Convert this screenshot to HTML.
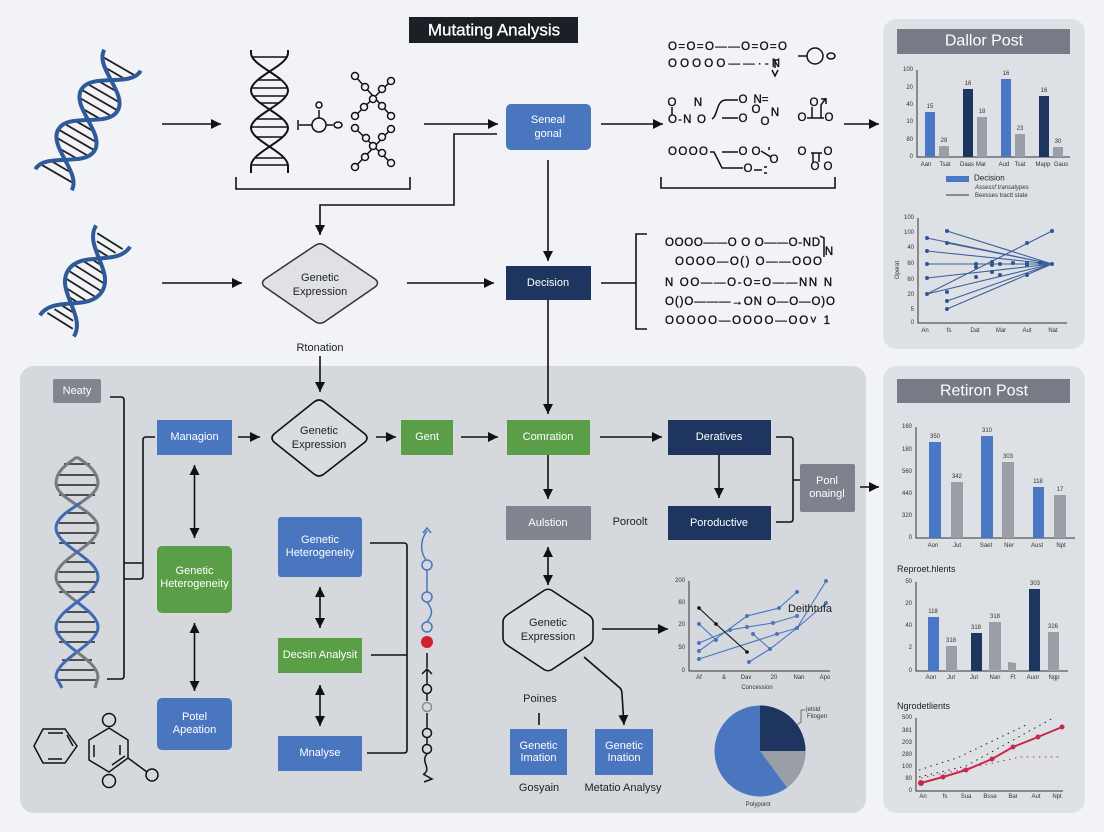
<!DOCTYPE html>
<html>
<head>
<meta charset="utf-8">
<style>
html,body{margin:0;padding:0;background:#f1f3f6;}
svg{display:block;font-family:"Liberation Sans",sans-serif;}
text{dominant-baseline:central;}
.m{text-anchor:middle;}
.e{text-anchor:end;}
.w{fill:#fff;font-size:11px;text-anchor:middle;}
.d{fill:#1c1f24;font-size:11px;text-anchor:middle;}
.l{fill:none;stroke:#111;stroke-width:1.6;}
.a{fill:none;stroke:#111;stroke-width:1.6;marker-end:url(#h);}
.b{fill:none;stroke:#111;stroke-width:1.6;marker-end:url(#h);marker-start:url(#h);}
.t{fill:#333;font-size:6px;}
.chem{fill:#111;stroke:#111;stroke-width:.35;font-size:11.5px;}
.n{fill:none;stroke:#111;stroke-width:1.5;}
.ax{fill:none;stroke:#333;stroke-width:1;}
.ln{fill:none;stroke:#3f609f;stroke-width:1.1;}
.pt{fill:#2f5597;}
</style>
</head>
<body>
<svg width="1104" height="832" viewBox="0 0 1104 832" xmlns="http://www.w3.org/2000/svg">
<defs>
<marker id="h" viewBox="0 0 10 10" refX="10" refY="5" markerWidth="10" markerHeight="11" markerUnits="userSpaceOnUse" orient="auto-start-reverse"><path d="M0,0L10,5L0,10Z" fill="#111"/></marker>
<linearGradient id="ga" gradientUnits="userSpaceOnUse" x1="0" y1="457" x2="0" y2="688"><stop offset="0" stop-color="#777b80"/><stop offset=".628" stop-color="#777b80"/><stop offset=".628" stop-color="#3f6cb0"/><stop offset="1" stop-color="#3f6cb0"/></linearGradient>
<linearGradient id="gb" gradientUnits="userSpaceOnUse" x1="0" y1="457" x2="0" y2="688"><stop offset="0" stop-color="#777b80"/><stop offset=".2" stop-color="#777b80"/><stop offset=".2" stop-color="#3f6cb0"/><stop offset=".844" stop-color="#3f6cb0"/><stop offset=".844" stop-color="#777b80"/><stop offset="1" stop-color="#777b80"/></linearGradient>
</defs>
<rect width="1104" height="832" fill="#f1f3f6"/>

<!-- panels -->
<rect x="883" y="19" width="202" height="330" rx="14" fill="#dde0e4"/>
<rect x="20" y="366" width="846" height="447" rx="14" fill="#d5d8dc"/>
<rect x="883" y="366" width="202" height="447" rx="14" fill="#dde0e4"/>

<!-- title -->
<rect x="409" y="17" width="169" height="26" fill="#1c1f26"/>
<text x="494" y="30" class="m" fill="#fff" stroke="#fff" stroke-width=".3" font-size="17">Mutating Analysis</text>

<!-- helix 1 -->
<g transform="translate(88,120) rotate(-60)">
<path d="M-39,-13V13M-31,-19V19M-23,-21V21M-15,-19V19M-7,-13V13M7,-13V13M15,-19V19M23,-21V21M31,-19V19M39,-13V13M-62,-17V17M-54,-11V11M62,-17V17M54,-11V11" stroke="#222" stroke-width="1.8" fill="none"/>
<path d="M-69,-21C-49,-21 -43,21 -23,21C-3,21 3,-21 23,-21C43,-21 49,21 69,21" stroke="#2f5a9a" stroke-width="4" fill="none"/>
<path d="M-69,21C-49,21 -43,-21 -23,-21C-3,-21 3,21 23,21C43,21 49,-21 69,-21" stroke="#2f5a9a" stroke-width="4" fill="none"/>
</g>
<!-- helix 2 -->
<g transform="translate(85,281) rotate(-58)">
<path d="M0,-20V20M-8,-19V19M8,-19V19M-16,-14V14M16,-14V14M-22,-7V7M22,-7V7M-47,-15V15M-40,-11V11M-33,-6V6M47,-15V15M40,-11V11M33,-6V6" stroke="#222" stroke-width="1.8" fill="none"/>
<path d="M-53,-20C-29,-20 -24,20 0,20C24,20 29,-20 53,-20" stroke="#2f5a9a" stroke-width="4" fill="none"/>
<path d="M-53,20C-29,20 -24,-20 0,-20C24,-20 29,20 53,20" stroke="#2f5a9a" stroke-width="4" fill="none"/>
</g>

<!-- black helix -->
<path d="M252,57H287M258,80H281M251.5,88H287.5M253.5,96H285.5M260.500,103H278.500M256.500,119H282.500M251.500,127H287.500M256.500,137H282.500M255.500,158H283.500M251.500,165H287.500" stroke="#111" stroke-width="1.6" fill="none"/>
<path d="M251,50V53C251,66 288,77 288,90.5C288,104 251,115 251,128C251,141 288,152 288,166V173" fill="none" stroke="#111" stroke-width="2"/>
<path d="M288,50V53C288,66 251,77 251,90.5C251,104 288,115 288,128C288,141 251,152 251,166V173" fill="none" stroke="#111" stroke-width="2"/>

<!-- molecule -->
<g class="n" stroke="#111">
<path class="n" d="M298,120V130M299,125H312M326,125H333M319,118V110"/>
<circle class="n" cx="319" cy="125" r="7"/><circle class="n" cx="319" cy="105" r="3"/><ellipse class="n" cx="338" cy="125" rx="4" ry="3"/>
<path class="n" d="M355,76L391,116M391,81L355,116M355,128L391,163M391,129L355,167"/>
</g>
<g fill="#f1f3f6" stroke="#111" stroke-width="1.5">
<circle cx="355" cy="76" r="3.5"/><circle cx="365" cy="87" r="3.5"/><circle cx="391" cy="81" r="3.5"/><circle cx="382" cy="89" r="3.5"/><circle cx="373" cy="99" r="3.5"/><circle cx="355" cy="116" r="3.500"/><circle cx="364" cy="107" r="3.500"/><circle cx="391" cy="116" r="3.500"/><circle cx="382" cy="106" r="3.500"/>
<circle cx="355" cy="128" r="3.5"/><circle cx="366" cy="138" r="3.5"/><circle cx="391" cy="129" r="3.5"/><circle cx="382" cy="137" r="3.5"/><circle cx="373" cy="146" r="3.5"/><circle cx="355" cy="167" r="3.5"/><circle cx="365" cy="157" r="3.5"/><circle cx="391" cy="163" r="3.5"/><circle cx="382" cy="153" r="3.5"/>
</g>
<path class="l" d="M236,177V189H410V177"/>

<!-- top connectors -->
<path class="a" d="M162,124H221"/>
<path class="a" d="M424,124H498"/>
<path class="a" d="M601,124H663"/>
<path class="a" d="M844,124H879"/>
<path class="a" d="M497,134H454V205H320V235"/>
<path class="a" d="M162,283H242"/>
<path class="a" d="M407,283H494"/>
<path class="a" d="M548,160V261"/>
<path class="a" d="M548,300V414"/>
<path class="l" d="M601,283H636M647,234H636V329H647"/>
<path class="a" d="M320,356V392"/>

<!-- top nodes -->
<rect x="506" y="104" width="85" height="46" rx="5" fill="#4a76c0"/>
<text x="548" y="120" class="w">Seneal</text><text x="548" y="134" class="w">gonal</text>
<path d="M265,279L315,245.500Q320,242 325,245.500L375,279Q380,283 375,287L325,321.500Q320,325 315,321.500L265,287Q260,283 265,279Z" fill="#dfe1e5" stroke="#333" stroke-width="1.5"/>
<text x="320" y="278" class="d">Genetic</text><text x="320" y="292" class="d">Expression</text>
<rect x="506" y="266" width="85" height="34" fill="#1e3560"/>
<text x="548" y="283" class="w">Decision</text>
<text x="320" y="348" class="d" font-size="10">Rtonation</text>

<!-- chemistry top -->
<text x="668" y="47" textLength="119" class="chem">O=O=O——O=O=O</text>
<text x="668" y="64" textLength="112" class="chem">OOOOO——·-N</text>
<path class="n" d="M778,60H775V68M772,70L775,76L778,70"/>
<path class="n" d="M798,56H807M768,100"/><circle class="n" cx="815" cy="56" r="8"/><ellipse class="n" cx="831" cy="56" rx="4" ry="3"/>
<text x="672" y="103" class="chem m">O</text><text x="698" y="103" class="chem m">N</text>
<path class="n" d="M672,107V115"/>
<text x="668" y="120" textLength="38" class="chem">O-N O</text>
<path class="n" d="M712,119C718,116 716,100 726,100H738M722,118H738"/>
<text x="743" y="100" class="chem m">O</text><text x="743" y="119" class="chem m">O</text>
<text x="761" y="100" class="chem m">N=</text><text x="756" y="110" class="chem m">O</text><text x="775" y="113" class="chem m">N</text><text x="765" y="122" class="chem m">O</text>
<text x="814" y="103" class="chem m">O</text><text x="802" y="118" class="chem m">O</text><text x="829" y="118" class="chem m">O</text>
<path class="n" d="M807,118H824M812,107V118M821,118V105L826,98M821,99H826V104"/>
<text x="668" y="152" textLength="40" class="chem">OOOO</text>
<path class="n" d="M710,152H714L722,168H743M722,152H738M761,151L771,157"/>
<text x="743" y="152" class="chem m">O</text><text x="756" y="152" class="chem m">O</text><text x="774" y="160" class="chem m">O</text><text x="748" y="169" class="chem m">O</text>
<path class="n" d="M754,170H762M764,167H767M764,173H767M769,147V150"/>
<text x="802" y="152" class="chem m">O</text><text x="828" y="152" class="chem m">O</text><text x="815" y="167" class="chem m">O</text><text x="828" y="167" class="chem m">O</text>
<path class="n" d="M811,153H822M813,153V162M819,153V162"/>
<path class="l" d="M661,177V188H835V177"/>

<!-- chemistry lower -->
<text x="665" y="243" textLength="155" class="chem">OOOO——O O O——O-ND</text>
<path class="n" d="M820,236L824,238V257"/><text x="829" y="252" class="chem m">N</text>
<text x="675" y="262" textLength="147" class="chem">OOOO—O() O——OOO</text>
<text x="665" y="283" textLength="167" class="chem">N  OO——O-O=O——NN  N</text>
<text x="665" y="302" textLength="170" class="chem">O()O———→ON O—O—O)O</text>
<text x="665" y="321" textLength="165" class="chem">OOOOO—OOOO—OO˅ 1</text>

<!-- upper right panel -->
<rect x="897" y="29" width="173" height="25" fill="#767b86"/>
<text x="984" y="41" class="m" fill="#fff" font-size="16">Dallor Post</text>
<path class="ax" d="M917,70V157H1070"/>
<g class="t e">
<text x="913" y="70" class="t e">100</text><text x="913" y="88" class="t e">20</text><text x="913" y="105" class="t e">40</text><text x="913" y="122" class="t e">10</text><text x="913" y="140" class="t e">80</text><text x="913" y="157" class="t e">0</text>
</g>
<rect x="925" y="112" width="10" height="45" fill="#4a78c4"/><rect x="939" y="146" width="10" height="11" fill="#9a9ea6"/>
<rect x="963" y="89" width="10" height="68" fill="#1e3560"/><rect x="977" y="117" width="10" height="40" fill="#9a9ea6"/>
<rect x="1001" y="79" width="10" height="78" fill="#4a78c4"/><rect x="1015" y="134" width="10" height="23" fill="#9a9ea6"/>
<rect x="1039" y="96" width="10" height="61" fill="#1e3560"/><rect x="1053" y="147" width="10" height="10" fill="#9a9ea6"/>
<text x="930" y="107" class="t m">15</text><text x="944" y="141" class="t m">28</text><text x="968" y="84" class="t m">16</text><text x="982" y="112" class="t m">18</text><text x="1006" y="74" class="t m">16</text><text x="1020" y="129" class="t m">23</text><text x="1044" y="91" class="t m">16</text><text x="1058" y="142" class="t m">30</text>
<text x="926" y="165" class="t m">Aan</text><text x="945" y="165" class="t m">Tsat</text><text x="967" y="165" class="t m">Daas</text><text x="981" y="165" class="t m">Mar</text><text x="1004" y="165" class="t m">Aud</text><text x="1020" y="165" class="t m">Tsat</text><text x="1043" y="165" class="t m">Mapp</text><text x="1061" y="165" class="t m">Gaus</text>
<rect x="946" y="176" width="23" height="6" fill="#4a78c4"/>
<text x="974" y="178" fill="#222" font-size="8">Decision</text>
<text x="975" y="188" class="t" font-style="italic">Assessf transatypes</text>
<path d="M946,195H969" stroke="#333" stroke-width="1"/>
<text x="975" y="196" class="t">Beesses tractt state</text>

<path class="ax" d="M918,218V323H1067"/>
<text x="914" y="218" class="t e">100</text><text x="914" y="233" class="t e">100</text><text x="914" y="248" class="t e">40</text><text x="914" y="264" class="t e">60</text><text x="914" y="280" class="t e">60</text><text x="914" y="295" class="t e">20</text><text x="914" y="310" class="t e">5</text><text x="914" y="323" class="t e">0</text>
<text transform="translate(898,270) rotate(-90)" class="t m">Operat</text>
<text x="925" y="331" class="t m">An</text><text x="949" y="331" class="t m">fs</text><text x="975" y="331" class="t m">Dat</text><text x="1001" y="331" class="t m">Mar</text><text x="1027" y="331" class="t m">Aut</text><text x="1053" y="331" class="t m">Nat</text>
<path class="ln" d="M927,238L1052,264M947,231L1052,264M947,243L1052,264M927,251L1052,264M927,264H1052M927,278L1052,264M927,294L1052,231M927,294L1052,264M947,301L1052,264M947,309L1052,264"/>
<g class="pt">
<circle cx="927" cy="238" r="2"/><circle cx="947" cy="231" r="2"/><circle cx="947" cy="243" r="2"/><circle cx="927" cy="251" r="2"/><circle cx="927" cy="264" r="2"/><circle cx="927" cy="278" r="2"/><circle cx="927" cy="294" r="2"/><circle cx="947" cy="292" r="2"/><circle cx="947" cy="301" r="2"/><circle cx="947" cy="309" r="2"/><circle cx="1052" cy="231" r="2"/><circle cx="1052" cy="264" r="2"/><circle cx="1027" cy="243" r="2"/>
<circle cx="976" cy="267" r="2"/><circle cx="976" cy="264" r="2"/><circle cx="976" cy="277" r="2"/><circle cx="992" cy="262" r="2"/><circle cx="992" cy="272" r="2"/><circle cx="992" cy="265" r="2"/><circle cx="1000" cy="264" r="2"/><circle cx="1013" cy="263" r="2"/><circle cx="1027" cy="263" r="2"/><circle cx="1027" cy="265" r="2"/><circle cx="1040" cy="263" r="2"/><circle cx="1000" cy="275" r="2"/><circle cx="1027" cy="275" r="2"/>
</g>

<!-- lower panel left -->
<rect x="53" y="379" width="48" height="24" rx="2" fill="#80858f"/>
<text x="77" y="391" class="w" font-size="10">Neaty</text>
<path class="l" d="M110,397H121Q124,397 124,400V676Q124,679 121,679H107"/>
<path class="l" d="M124,563H142M124,579H140Q143,579 143,576V440Q143,437 146,437H155"/>

<path d="M64,464H90M59,475H95M56,485H98M59,495H95M64,513H90M59,523H95M56,533H98M59,543H95M64,562H90M59,572H95M56,582H98M59,592H95M64,612H90M59,622H95M56,632H98M59,642H95M62,660H92M58,670H96M56,680H98" stroke="#222" stroke-width="1.4" fill="none"/>
<path d="M77,457C70,462 56,470 56,483C56,500 98,510 98,528C98,546 56,558 56,577C56,595 98,609 98,627C98,645 56,659 56,677L62,688" fill="none" stroke="url(#ga)" stroke-width="3"/>
<path d="M77,457C84,462 98,470 98,483C98,500 56,510 56,528C56,546 98,558 98,577C98,595 56,609 56,627C56,645 98,659 98,677L95,688" fill="none" stroke="url(#gb)" stroke-width="3"/>

<path class="n" d="M43,729H65L77,746L65,763H43L34,746ZM48,733H63M48,759H62M67,735L73,746"/>
<path class="n" d="M109,728L128,740V758L109,772L89,760V740ZM120,745V755M94,745V757M112,765L125,756M128,758L147,772"/>
<circle class="n" cx="109" cy="720" r="6.500"/><circle class="n" cx="109" cy="781" r="6.500"/><circle class="n" cx="152" cy="775" r="6"/>

<rect x="157" y="420" width="75" height="35" fill="#4a76c0"/>
<text x="194.500" y="437" class="w">Managion</text>
<path class="a" d="M238,437H260"/>
<path d="M274,434L314,402Q319,398 324,402L365,434Q369,438 365,442L324,474Q319,478 314,474L274,442Q270,438 274,434Z" fill="#dadde0" stroke="#111" stroke-width="1.6"/>
<text x="319" y="431" class="d">Genetic</text><text x="319" y="445" class="d">Expression</text>
<path class="a" d="M376,437H396"/>
<rect x="401" y="420" width="52" height="35" fill="#5a9e47"/>
<text x="427" y="437" class="w">Gent</text>
<path class="a" d="M461,437H498"/>
<rect x="507" y="420" width="83" height="35" fill="#5a9e47"/>
<text x="548" y="437" class="w">Comration</text>
<path class="a" d="M600,437H662"/>
<rect x="668" y="420" width="103" height="35" fill="#1e3560"/>
<text x="719" y="437" class="w">Deratives</text>
<path class="a" d="M719,455V498"/>
<rect x="668" y="506" width="103" height="34" fill="#1e3560"/>
<text x="719" y="523" class="w">Poroductive</text>
<path class="l" d="M776,437H790Q793,437 793,440V519Q793,522 790,522H776M793,480H800"/>
<rect x="800" y="464" width="55" height="48" rx="2" fill="#7d828c"/>
<text x="827" y="481" class="w" font-size="10.500">Ponl</text><text x="827" y="494" class="w" font-size="10.500">onaingl</text>
<path class="a" d="M860,487H879"/>
<path class="a" d="M548,455V499"/>
<rect x="506" y="506" width="85" height="34" fill="#80858f"/>
<text x="548" y="523" class="w">Aulstion</text>
<text x="630" y="522" class="d" font-size="10.500">Poroolt</text>
<path class="b" d="M548,547V585"/>
<path d="M544,590.500Q548,588 552,590.500L589,615Q593,618 593,622V638Q593,642 589,645L552,669.500Q548,672 544,669.500L507,645Q503,642 503,638V622Q503,618 507,615Z" fill="#dadde0" stroke="#111" stroke-width="1.6"/>
<text x="548" y="623" class="d" font-size="11.500">Genetic</text><text x="548" y="637" class="d" font-size="11.500">Expression</text>
<path class="a" d="M602,629H668"/>
<path class="a" d="M584,657L620,688Q622,690 622,694L624,725"/>
<text x="540" y="699" class="d" font-size="9.500">Poines</text>
<path class="l" d="M539,713V725"/>
<rect x="510" y="729" width="57" height="46" fill="#4a76c0"/>
<text x="538.500" y="746" class="w" font-size="10.500">Genetic</text><text x="538.500" y="758" class="w" font-size="10.500">Imation</text>
<rect x="595" y="729" width="58" height="46" fill="#4a76c0"/>
<text x="624" y="746" class="w" font-size="10.500">Genetic</text><text x="624" y="758" class="w" font-size="10.500">Ination</text>
<text x="539" y="788" class="d" font-size="8.500">Gosyain</text>
<text x="623" y="788" class="d" font-size="8.500">Metatio Analysy</text>

<rect x="157" y="546" width="75" height="67" rx="5" fill="#5a9e47"/>
<text x="194.500" y="571" class="w" font-size="10.500">Genetic</text><text x="194.500" y="584" class="w" font-size="10.500">Heterogeneity</text>
<rect x="157" y="698" width="75" height="52" rx="5" fill="#4a76c0"/>
<text x="194.500" y="717" class="w" font-size="10.500">Potel</text><text x="194.500" y="730" class="w" font-size="10.500">Apeation</text>
<path class="b" d="M194.500,465V538"/>
<path class="b" d="M194.500,623V691"/>

<rect x="278" y="517" width="84" height="60" rx="3" fill="#4a76c0"/>
<text x="320" y="540" class="w" font-size="11">Genetic</text><text x="320" y="553" class="w" font-size="11">Heterogeneity</text>
<path class="b" d="M320,587V628"/>
<rect x="278" y="638" width="84" height="35" fill="#5a9e47"/>
<text x="320" y="655" class="w" font-size="10.500">Decsin Analysit</text>
<path class="b" d="M320,685V726"/>
<rect x="278" y="736" width="84" height="35" fill="#4a76c0"/>
<text x="320" y="753" class="w">Mnalyse</text>
<path class="l" d="M370,543H404Q407,543 407,546V750Q407,753 404,753H367M371,655H407"/>

<!-- chain -->
<path d="M423,533L427,528L431,533M427,531C420,540 420,552 426,560M427,570V592M427,602C433,610 433,614 427,622" fill="none" stroke="#4a76c0" stroke-width="1.500"/>
<circle cx="427" cy="565" r="5" fill="none" stroke="#4a76c0" stroke-width="1.500"/>
<circle cx="427" cy="597" r="5" fill="none" stroke="#4a76c0" stroke-width="1.500"/>
<circle cx="427" cy="627" r="5" fill="none" stroke="#4a76c0" stroke-width="1.500"/>
<circle cx="427" cy="642" r="6" fill="#d0202f"/>
<path d="M427,653V668M422,674L427,669L432,674M427,670V684M427,694V701M427,713V728M427,738V744M427,754C420,762 432,768 424,774M423,774L432,779L424,782" fill="none" stroke="#111" stroke-width="1.500"/>
<circle cx="427" cy="689" r="4.500" fill="none" stroke="#111" stroke-width="1.500"/>
<circle cx="427" cy="707" r="4.500" fill="none" stroke="#8a8d92" stroke-width="1.500"/>
<circle cx="427" cy="733" r="4.500" fill="none" stroke="#111" stroke-width="1.500"/>
<circle cx="427" cy="749" r="4.500" fill="none" stroke="#111" stroke-width="1.500"/>

<!-- inner line chart -->
<path class="ax" d="M689,581V671H830"/>
<text x="685" y="581" class="t e">200</text><text x="685" y="603" class="t e">60</text><text x="685" y="625" class="t e">20</text><text x="685" y="648" class="t e">50</text><text x="685" y="671" class="t e">0</text>
<text x="699" y="678" class="t m">Af</text><text x="724" y="678" class="t m">&amp;</text><text x="746" y="678" class="t m">Dav</text><text x="774" y="678" class="t m">20</text><text x="799" y="678" class="t m">Nan</text><text x="825" y="678" class="t m">Apo</text>
<text x="757" y="688" class="t m">Concession</text>
<path fill="none" stroke="#4a76c0" stroke-width="1.100" d="M699,651L747,616L779,608L797,592M699,643L730,630L747,627L773,623L797,616M699,659L777,634L797,628L826,603M699,624L716,640M749,662L770,649L797,628L826,581M753,634L770,649"/>
<path fill="none" stroke="#111" stroke-width="1.100" d="M699,608L716,624L747,652"/>
<g fill="#4a76c0"><circle cx="699" cy="651" r="2"/><circle cx="747" cy="616" r="2"/><circle cx="779" cy="608" r="2"/><circle cx="797" cy="592" r="2"/><circle cx="699" cy="643" r="2"/><circle cx="730" cy="630" r="2"/><circle cx="747" cy="627" r="2"/><circle cx="773" cy="623" r="2"/><circle cx="797" cy="616" r="2"/><circle cx="699" cy="659" r="2"/><circle cx="777" cy="634" r="2"/><circle cx="797" cy="628" r="2"/><circle cx="826" cy="603" r="2"/><circle cx="699" cy="624" r="2"/><circle cx="716" cy="640" r="2"/><circle cx="749" cy="662" r="2"/><circle cx="770" cy="649" r="2"/><circle cx="826" cy="581" r="2"/><circle cx="753" cy="634" r="2"/></g>
<g fill="#111"><circle cx="699" cy="608" r="1.800"/><circle cx="716" cy="624" r="1.800"/><circle cx="747" cy="652" r="1.800"/></g>
<text x="810" y="609" class="d" font-size="10">Deithtufa</text>

<!-- pie -->
<circle cx="760" cy="751" r="45.500" fill="#4a76c0"/>
<path d="M760,751V705.500A45.500,45.500 0 0 1 805.500,751Z" fill="#1e3560"/>
<path d="M760,751H805.500A45.500,45.500 0 0 1 787,787.500Z" fill="#9a9ea6"/>
<path d="M805,710H801V722L797,725" fill="none" stroke="#444" stroke-width=".7"/>
<text x="813" y="710" class="t m">(etstd</text><text x="817" y="717" class="t m">Fitogen</text>
<text x="758" y="805" class="t m">Polypoint</text>

<!-- lower right panel -->
<rect x="897" y="379" width="173" height="24" fill="#767b86"/>
<text x="984" y="391" class="m" fill="#fff" font-size="16">Retiron Post</text>
<path class="ax" d="M916,427V538H1075"/>
<text x="912" y="427" class="t e">160</text><text x="912" y="450" class="t e">180</text><text x="912" y="472" class="t e">560</text><text x="912" y="494" class="t e">440</text><text x="912" y="516" class="t e">320</text><text x="912" y="538" class="t e">0</text>
<rect x="929" y="442" width="12" height="96" fill="#4a78c4"/><rect x="951" y="482" width="12" height="56" fill="#9a9ea6"/>
<rect x="981" y="436" width="12" height="102" fill="#4a78c4"/><rect x="1002" y="462" width="12" height="76" fill="#9a9ea6"/>
<rect x="1033" y="487" width="11" height="51" fill="#4a78c4"/><rect x="1054" y="495" width="12" height="43" fill="#9a9ea6"/>
<text x="935" y="437" class="t m">350</text><text x="957" y="477" class="t m">342</text><text x="987" y="431" class="t m">310</text><text x="1008" y="457" class="t m">303</text><text x="1038" y="482" class="t m">118</text><text x="1060" y="490" class="t m">17</text>
<text x="933" y="546" class="t m">Aon</text><text x="957" y="546" class="t m">Jut</text><text x="986" y="546" class="t m">Saet</text><text x="1009" y="546" class="t m">Ner</text><text x="1037" y="546" class="t m">Aust</text><text x="1061" y="546" class="t m">Npt</text>
<text x="897" y="569" fill="#1c1f24" font-size="9">Reproet.hlents</text>

<path class="ax" d="M916,582V671H1068"/>
<text x="912" y="582" class="t e">50</text><text x="912" y="604" class="t e">20</text><text x="912" y="626" class="t e">40</text><text x="912" y="648" class="t e">2</text><text x="912" y="671" class="t e">0</text>
<rect x="928" y="617" width="11" height="54" fill="#4a78c4"/><rect x="946" y="646" width="11" height="25" fill="#9a9ea6"/><rect x="971" y="633" width="11" height="38" fill="#1e3560"/><rect x="989" y="622" width="12" height="49" fill="#9a9ea6"/><path d="M1008,662L1016,663V671H1008Z" fill="#9a9ea6"/><rect x="1029" y="589" width="11" height="82" fill="#1e3560"/><rect x="1048" y="632" width="11" height="39" fill="#9a9ea6"/>
<text x="933" y="612" class="t m">118</text><text x="951" y="641" class="t m">318</text><text x="976" y="628" class="t m">318</text><text x="995" y="617" class="t m">318</text><text x="1035" y="584" class="t m">303</text><text x="1053" y="627" class="t m">326</text>
<text x="931" y="678" class="t m">Aon</text><text x="951" y="678" class="t m">Jut</text><text x="974" y="678" class="t m">Jut</text><text x="995" y="678" class="t m">Nan</text><text x="1013" y="678" class="t m">Ft</text><text x="1033" y="678" class="t m">Auor</text><text x="1054" y="678" class="t m">Ngp</text>
<text x="897" y="706" fill="#1c1f24" font-size="9">Ngrodetlients</text>

<path class="ax" d="M916,718V791H1063"/>
<text x="912" y="718" class="t e">500</text><text x="912" y="731" class="t e">381</text><text x="912" y="743" class="t e">203</text><text x="912" y="755" class="t e">280</text><text x="912" y="767" class="t e">100</text><text x="912" y="779" class="t e">80</text><text x="912" y="791" class="t e">0</text>
<path d="M919,770L957,758L1028,724M919,777L966,766L1053,718" fill="none" stroke="#222" stroke-width="1" stroke-dasharray="1.500 4.500"/>
<path d="M921,778L993,763L1020,757H1062" fill="none" stroke="#c9284a" stroke-width="1" stroke-dasharray="1.500 4.500"/>
<path d="M921,783L943,777L966,770L992,759L1013,747L1038,737L1062,727" fill="none" stroke="#c9284a" stroke-width="2"/>
<g fill="#c9284a"><circle cx="921" cy="783" r="3"/><circle cx="943" cy="777" r="2.500"/><circle cx="966" cy="770" r="2.500"/><circle cx="992" cy="759" r="2.500"/><circle cx="1013" cy="747" r="2.500"/><circle cx="1038" cy="737" r="2.500"/><circle cx="1062" cy="727" r="2.500"/></g>
<text x="923" y="797" class="t m">An</text><text x="945" y="797" class="t m">fs</text><text x="966" y="797" class="t m">Sua</text><text x="990" y="797" class="t m">Bsse</text><text x="1013" y="797" class="t m">Bar</text><text x="1036" y="797" class="t m">Aut</text><text x="1057" y="797" class="t m">Npt</text>
</svg>
</body>
</html>
